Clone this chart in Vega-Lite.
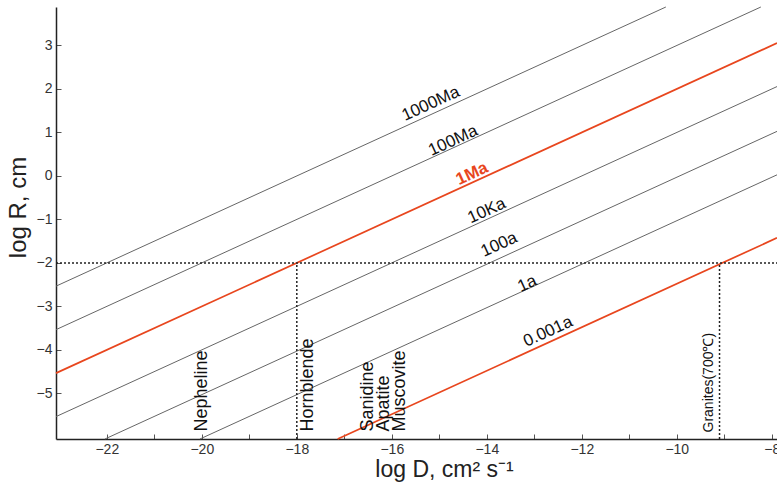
{
  "$schema": "https://vega.github.io/schema/vega-lite/v6.json",
  "width": 721,
  "height": 432,
  "autosize": "none",
  "padding": {"left": 56, "top": 7, "right": 0, "bottom": 45},
  "background": "white",
  "config": {"view": {"stroke": null}, "font": "Liberation Sans"},
  "datasets": {
    "lines": [
      {"id": "1000Ma", "kind": "gray", "pt": 0, "x": -23.07, "y": -2.535},
      {"id": "1000Ma", "kind": "gray", "pt": 1, "x": -10.23, "y": 3.885},
      {"id": "100Ma", "kind": "gray", "pt": 0, "x": -23.07, "y": -3.535},
      {"id": "100Ma", "kind": "gray", "pt": 1, "x": -8.23, "y": 3.885},
      {"id": "10Ka", "kind": "gray", "pt": 0, "x": -23.07, "y": -5.535},
      {"id": "10Ka", "kind": "gray", "pt": 1, "x": -7.89, "y": 2.055},
      {"id": "100a", "kind": "gray", "pt": 0, "x": -22.04, "y": -6.05},
      {"id": "100a", "kind": "gray", "pt": 1, "x": -7.89, "y": 1.025},
      {"id": "1a", "kind": "gray", "pt": 0, "x": -20.04, "y": -6.05},
      {"id": "1a", "kind": "gray", "pt": 1, "x": -7.89, "y": 0.025},
      {"id": "1Ma", "kind": "red", "pt": 0, "x": -23.07, "y": -4.535},
      {"id": "1Ma", "kind": "red", "pt": 1, "x": -7.89, "y": 3.055},
      {"id": "0.001a", "kind": "red", "pt": 0, "x": -17.14, "y": -6.05},
      {"id": "0.001a", "kind": "red", "pt": 1, "x": -7.89, "y": -1.425},
      {"id": "h", "kind": "dash", "pt": 0, "x": -23.07, "y": -2},
      {"id": "h", "kind": "dash", "pt": 1, "x": -7.89, "y": -2},
      {"id": "v1", "kind": "dash", "pt": 0, "x": -18, "y": -6.05},
      {"id": "v1", "kind": "dash", "pt": 1, "x": -18, "y": -2},
      {"id": "v2", "kind": "dash", "pt": 0, "x": -9.1, "y": -6.05},
      {"id": "v2", "kind": "dash", "pt": 1, "x": -9.1, "y": -2}
    ],
    "lineLabels": [
      {"t": "1000Ma", "x": -15.18, "y": 1.66},
      {"t": "100Ma", "x": -14.71, "y": 0.81},
      {"t": "10Ka", "x": -14.0, "y": -0.8},
      {"t": "100a", "x": -13.74, "y": -1.58},
      {"t": "1a", "x": -13.15, "y": -2.48},
      {"t": "0.001a", "x": -12.71, "y": -3.58}
    ],
    "redLabel": [{"t": "1Ma", "x": -14.31, "y": 0.05}],
    "minerals": [
      {"t": "Nepheline", "x": -20.0, "y": -5.88},
      {"t": "Hornblende", "x": -17.77, "y": -5.88},
      {"t": "Sanidine", "x": -16.5, "y": -5.88},
      {"t": "Apatite", "x": -16.16, "y": -5.88},
      {"t": "Muscovite", "x": -15.83, "y": -5.88}
    ],
    "granite": [{"t": "Granites(700℃)", "x": -9.32, "y": -5.9}]
  },
  "layer": [
    {
      "data": {"name": "lines"},
      "transform": [{"filter": "datum.kind == 'gray'"}],
      "mark": {"type": "line", "color": "#666666", "strokeWidth": 1},
      "encoding": {
        "x": {
          "field": "x", "type": "quantitative",
          "scale": {"domain": [-23.07, -7.89], "nice": false, "zero": false},
          "axis": {
            "values": [-22, -21, -20, -19, -18, -17, -16, -15, -14, -13, -12, -11, -10, -9, -8],
            "labelExpr": "datum.value % 2 == 0 ? datum.label : ''",
            "labelOverlap": false, "labelFlush": false, "labelBound": false,
            "tickSize": -5, "labelPadding": 8, "labelFontSize": 14, "labelColor": "#333333",
            "domainColor": "#222222", "domainWidth": 1.5, "tickColor": "#555555", "grid": false,
            "title": "log D, cm² s⁻¹", "titleFontSize": 23, "titleFontWeight": "normal",
            "titleColor": "#222222", "titleX": 388, "titleY": 37, "titleBaseline": "alphabetic"
          }
        },
        "y": {
          "field": "y", "type": "quantitative",
          "scale": {"domain": [-6.05, 3.885], "nice": false, "zero": false},
          "axis": {
            "values": [-5, -4, -3, -2, -1, 0, 1, 2, 3],
            "labelOverlap": false, "labelFlush": false, "labelBound": false,
            "tickSize": -5, "labelPadding": 9, "labelFontSize": 14, "labelColor": "#333333",
            "domainColor": "#222222", "domainWidth": 1.5, "tickColor": "#555555", "grid": false,
            "title": "log R, cm", "titleFontSize": 24, "titleFontWeight": "normal",
            "titleColor": "#222222", "titleX": -31, "titleY": 200, "titleBaseline": "alphabetic"
          }
        },
        "detail": {"field": "id"},
        "order": {"field": "pt"}
      }
    },
    {
      "data": {"name": "lines"},
      "transform": [{"filter": "datum.kind == 'red'"}],
      "mark": {"type": "line", "color": "#e8461e", "strokeWidth": 1.7},
      "encoding": {
        "x": {"field": "x", "type": "quantitative"},
        "y": {"field": "y", "type": "quantitative"},
        "detail": {"field": "id"},
        "order": {"field": "pt"}
      }
    },
    {
      "data": {"name": "lines"},
      "transform": [{"filter": "datum.kind == 'dash'"}],
      "mark": {"type": "line", "color": "#222222", "strokeWidth": 1.5, "strokeDash": [2, 2]},
      "encoding": {
        "x": {"field": "x", "type": "quantitative"},
        "y": {"field": "y", "type": "quantitative"},
        "detail": {"field": "id"},
        "order": {"field": "pt"}
      }
    },
    {
      "mark": {"type": "rule", "color": "#222222", "strokeWidth": 1.5},
      "encoding": {"y": {"datum": 3.885}}
    },
    {
      "data": {"name": "lineLabels"},
      "mark": {"type": "text", "angle": 335.4, "fontSize": 17, "color": "#111111", "align": "center", "baseline": "middle"},
      "encoding": {
        "x": {"field": "x", "type": "quantitative"},
        "y": {"field": "y", "type": "quantitative"},
        "text": {"field": "t"}
      }
    },
    {
      "data": {"name": "redLabel"},
      "mark": {"type": "text", "angle": 335.4, "fontSize": 17, "fontWeight": "bold", "color": "#e8461e", "align": "center", "baseline": "middle"},
      "encoding": {
        "x": {"field": "x", "type": "quantitative"},
        "y": {"field": "y", "type": "quantitative"},
        "text": {"field": "t"}
      }
    },
    {
      "data": {"name": "minerals"},
      "mark": {"type": "text", "angle": 270, "fontSize": 18, "color": "#111111", "align": "left", "baseline": "middle"},
      "encoding": {
        "x": {"field": "x", "type": "quantitative"},
        "y": {"field": "y", "type": "quantitative"},
        "text": {"field": "t"}
      }
    },
    {
      "data": {"name": "granite"},
      "mark": {"type": "text", "angle": 270, "fontSize": 14, "color": "#111111", "align": "left", "baseline": "middle"},
      "encoding": {
        "x": {"field": "x", "type": "quantitative"},
        "y": {"field": "y", "type": "quantitative"},
        "text": {"field": "t"}
      }
    }
  ]
}
